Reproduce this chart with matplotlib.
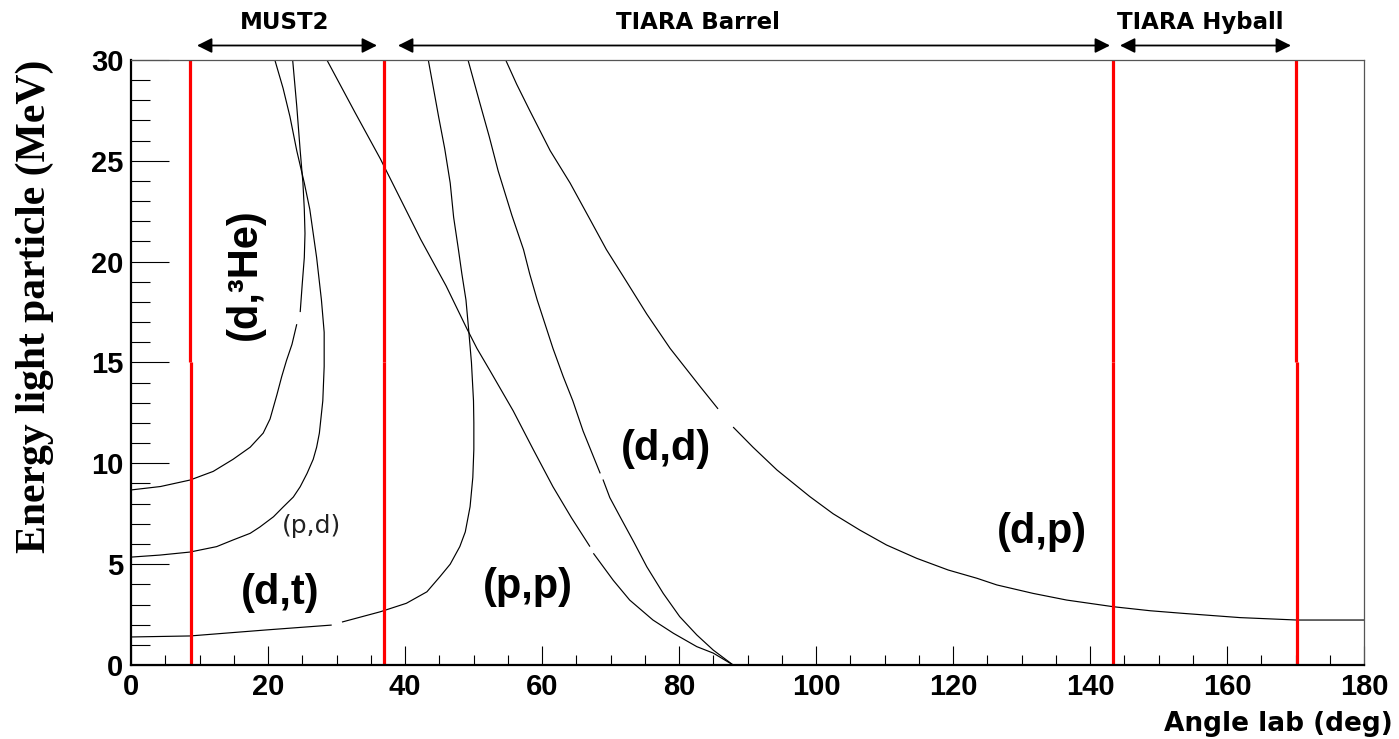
import numpy as np
import matplotlib
matplotlib.use("Agg")
import matplotlib.pyplot as plt
from matplotlib.patches import FancyArrowPatch
from matplotlib.ticker import MultipleLocator
from matplotlib.font_manager import FontProperties

nan = np.nan

# ---- kinematic curves (angle lab [deg], energy [MeV]); NaN marks small gaps in the drawn line
he3_angle = [0.0, 4.3, 8.6, 12.0, 14.9, 17.4, 19.3, 20.3, 21.3, 22.0, 22.7, 23.5, 24.2, nan,
             24.7, 25.0, 25.3, 25.4, 25.3, 25.1, 24.7, 24.2, 23.6]
he3_energy = [8.68, 8.85, 9.17, 9.6, 10.2, 10.8, 11.5, 12.2, 13.4, 14.3, 15.1, 15.9, 16.9, nan,
              17.5, 18.9, 20.2, 21.4, 22.6, 23.9, 25.5, 27.7, 30.0]

pd_angle = [0.0, 4.2, 8.6, 12.5, 14.9, 17.4, 18.8, 20.8, 22.2, 23.7, 24.7, 25.7, 26.6,
            27.1, 27.5, 28.0, 28.2, 28.2, 27.8, 27.1, 26.1, 25.3, 24.2, 23.2, 22.2, 21.0]
pd_energy = [5.35, 5.45, 5.6, 5.87, 6.2, 6.53, 6.84, 7.35, 7.83, 8.33, 8.84, 9.5, 10.2,
             10.8, 11.5, 13.1, 14.8, 16.5, 18.1, 20.2, 22.6, 23.9, 25.5, 27.2, 28.6, 30.0]

pp_angle = [0.0, 8.6, 19.8, 29.3, nan, 30.8, 36.4, 40.2, 43.2, 45.1, 46.6, 48.0, 48.8,
            49.5, 49.9, 50.05, 50.05, 50.0, 49.7, 49.3, 48.9, 48.3, 47.8, 47.1, 46.6,
            45.8, 44.9, 44.1, 43.4]
pp_energy = [1.39, 1.44, 1.74, 1.98, nan, 2.13, 2.64, 3.06, 3.63, 4.38, 5.0, 5.87, 6.6,
             7.85, 9.3, 10.7, 12.0, 13.1, 15.0, 16.6, 18.1, 19.4, 20.6, 22.2, 23.9,
             25.6, 27.2, 28.7, 30.0]

dd_angle = [49.2, 50.9, 52.3, 53.6, 55.6, 57.3, 58.2, 59.3, 61.6, 63.1, 64.5, 66.0, 68.5, nan,
            68.9, 69.9, 71.4, 73.4, 75.3, 77.7, 80.1, 82.6, 85.0, 87.9]
dd_energy = [30.0, 27.9, 26.2, 24.5, 22.3, 20.6, 19.4, 18.1, 15.7, 14.3, 13.1, 11.6, 9.5, nan,
             9.2, 8.3, 7.35, 6.1, 4.87, 3.55, 2.4, 1.49, 0.74, 0.0]

pp2_angle = [28.6, 32.7, 36.4, 42.3, 46.0, 49.0, 50.5, 52.4, 55.8, 58.7, 61.6, 64.3, 67.0, nan,
             67.5, 70.4, 72.8, 76.2, 79.2, 82.6, 85.0, 87.9]
pp2_energy = [30.0, 27.4, 25.1, 21.1, 18.8, 16.7, 15.7, 14.6, 12.6, 10.7, 8.84, 7.3, 5.87, nan,
              5.54, 4.2, 3.22, 2.23, 1.57, 0.91, 0.59, 0.0]

dp_angle = [54.7, 56.3, 58.2, 61.2, 64.1, 67.0, 69.4, 71.9, 75.3, 78.7, 83.1, 85.7, nan,
            87.9, 90.8, 94.3, 99.1, 102.5, 106.4, 110.3, 114.7, 119.3, 123.5, 126.4,
            131.7, 136.6, 143.4, 148.8, 153.6, 161.9, 170.2, 180.0]
dp_energy = [30.0, 28.8, 27.5, 25.5, 23.9, 22.1, 20.6, 19.25, 17.4, 15.7, 13.8, 12.7, nan,
             11.8, 10.8, 9.67, 8.35, 7.5, 6.69, 5.95, 5.29, 4.71, 4.30, 3.97,
             3.55, 3.22, 2.89, 2.69, 2.56, 2.35, 2.23, 2.23]

curves = [(he3_angle, he3_energy), (pd_angle, pd_energy), (pp_angle, pp_energy),
          (dd_angle, dd_energy), (pp2_angle, pp2_energy), (dp_angle, dp_energy)]

# ---- detector limits (red lines), lower half / upper half
limit_lower = [8.8, 36.9, 143.3, 170.25]
limit_upper = [8.55, 36.9, 143.3, 170.1]
limit_split = 15.0

# ---- labels
reaction_labels = ["(d,³He)", "(p,d)", "(d,t)", "(p,p)", "(d,d)", "(d,p)"]
label_x = [16.6, 26.4, 21.8, 58.0, 78.1, 133.0]
label_y = [19.4, 6.9, 3.57, 3.87, 10.7, 6.6]

detectors = ["MUST2", "TIARA Barrel", "TIARA Hyball"]

W, H = 1399, 739
fig = plt.figure(figsize=(W / 100, H / 100), dpi=100)
fig.patch.set_facecolor("white")

x0, x1, y0, y1 = 131, 1364, 60, 665
ax = fig.add_axes([x0 / W, 1 - y1 / H, (x1 - x0) / W, (y1 - y0) / H])
ax.set_xlim(0, 180)
ax.set_ylim(0, 30)

for xs, ys in curves:
    ax.plot(xs, ys, color="black", lw=0.85, solid_capstyle="butt", solid_joinstyle="round")

for xl, xu in zip(limit_lower, limit_upper):
    ax.plot([xl, xl], [0, limit_split], color="#ff0000", lw=2.3, solid_capstyle="butt")
    ax.plot([xu, xu], [limit_split, 30], color="#ff0000", lw=2.3, solid_capstyle="butt")

# spines
for s in ["left", "bottom"]:
    ax.spines[s].set_linewidth(1.6)
    ax.spines[s].set_color("black")
for s in ["top", "right"]:
    ax.spines[s].set_linewidth(0.9)
    ax.spines[s].set_color("#555555")

ax.xaxis.set_major_locator(MultipleLocator(20))
ax.xaxis.set_minor_locator(MultipleLocator(5))
ax.yaxis.set_major_locator(MultipleLocator(5))
ax.yaxis.set_minor_locator(MultipleLocator(1))
ax.tick_params(axis="x", which="major", direction="in", length=13.7, width=0.8, pad=5.5)
ax.tick_params(axis="x", which="minor", direction="in", length=7.2, width=0.8)
ax.tick_params(axis="y", which="major", direction="in", length=27.4, width=0.8, pad=5.5)
ax.tick_params(axis="y", which="minor", direction="in", length=13.7, width=0.8)
tickfont = FontProperties(family="Liberation Sans", weight="bold", size=21)
for lab in ax.get_xticklabels() + ax.get_yticklabels():
    lab.set_fontproperties(tickfont)

# reaction labels
for t, lx, ly in zip(reaction_labels, label_x, label_y):
    if t == "(p,d)":
        ax.text(lx, ly, t, family="DejaVu Sans", size=18, color="#222222",
                ha="center", va="center")
    elif t == "(d,³He)":
        ax.text(lx, ly, t, family="Liberation Sans", weight="bold", size=30,
                rotation=90, ha="center", va="center")
    else:
        ax.text(lx, ly, t, family="Liberation Sans", weight="bold", size=30,
                ha="center", va="center")

# axis titles
fig.text(35 / W, 1 - 306 / H, "Energy light particle (MeV)", family="Liberation Serif",
         weight="bold", size=30, rotation=90, ha="center", va="center")
fig.text(1393 / W, 1 - 724 / H, "Angle lab (deg)", family="DejaVu Sans",
         weight="bold", size=19, ha="right", va="center")

# detector coverage arrows
text_x = [285, 698, 1200]
arrow_a = [197, 398, 1120]
arrow_b = [377, 1110, 1291]
for name, tx, a, b in zip(detectors, text_x, arrow_a, arrow_b):
    fig.text(tx / W, 1 - 29 / H, name, family="DejaVu Sans", weight="bold", size=16.5,
             ha="center", va="baseline")
    arr = FancyArrowPatch((a / W, 1 - 45.5 / H), (b / W, 1 - 45.5 / H),
                          arrowstyle="<|-|>,head_length=0.9,head_width=0.45",
                          mutation_scale=10, lw=1.3, color="black",
                          transform=fig.transFigure, shrinkA=0, shrinkB=0)
    fig.add_artist(arr)

fig.savefig("out.png", dpi=100)
